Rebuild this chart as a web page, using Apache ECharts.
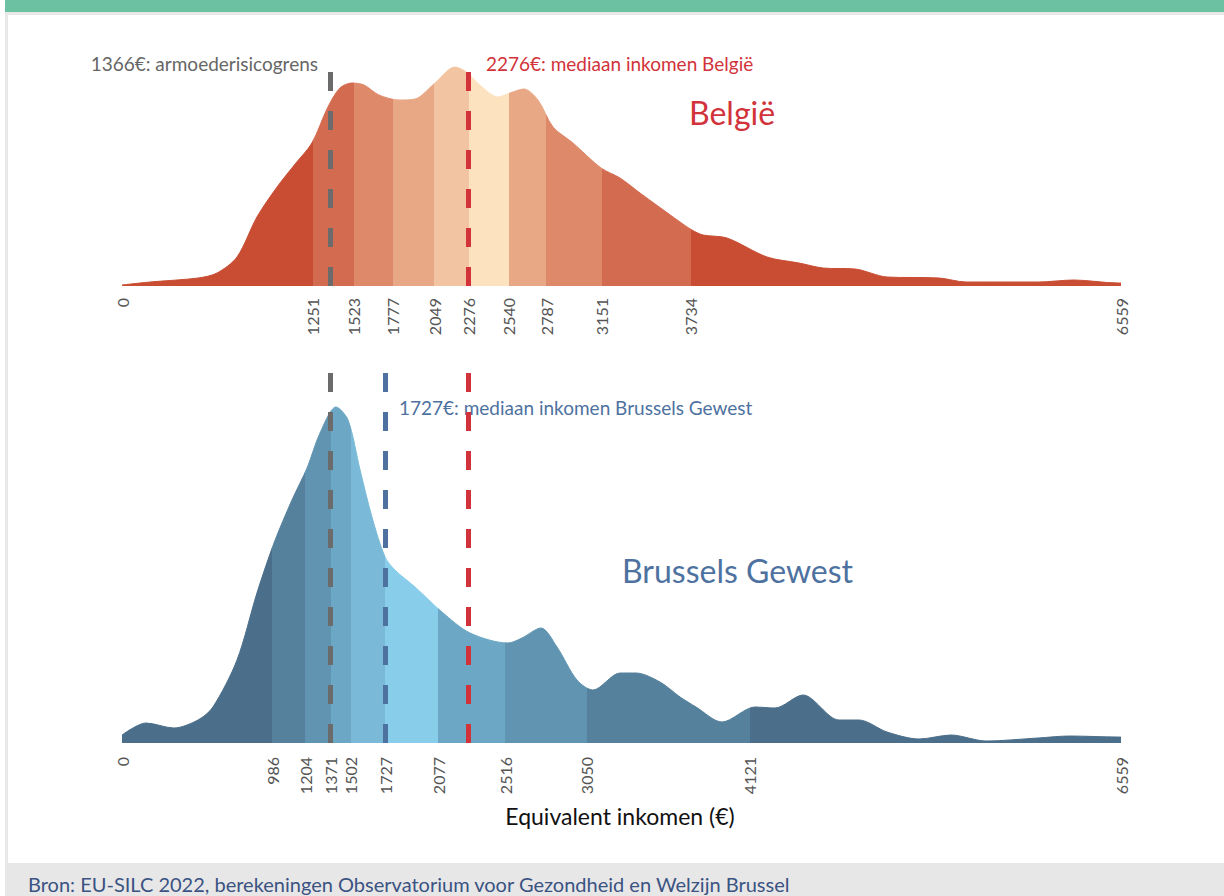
<!DOCTYPE html>
<html>
<head>
<meta charset="utf-8">
<script src="https://cdn.jsdelivr.net/npm/echarts@6/dist/echarts.min.js"></script>
<style>
  html, body { margin: 0; padding: 0; background: #fff; }
  #chart { width: 1224px; height: 896px; }
</style>
</head>
<body>
<div id="chart"></div>
<script>
// inkomensverdeling Belgie (dichtheid, willekeurige eenheid)
const belgiumX = [0, 184, 499, 624, 755, 886, 1018, 1142, 1247, 1352, 1431, 1510, 1589, 1687, 1819, 1924, 2055, 2186, 2259, 2364, 2469, 2547, 2639, 2731, 2830, 2961, 3145, 3270, 3401, 3664, 3742, 3815, 3972, 4235, 4445, 4602, 4813, 5023, 5364, 5541, 6014, 6250, 6540, 6559];
const belgiumY = [1, 4, 8, 13, 29, 69, 99, 123, 143, 179, 198, 203, 201, 191, 186, 187, 203, 219, 214, 199, 189, 193, 197, 186, 159, 143, 118, 108, 93, 64, 56, 51, 48, 29, 23, 18, 17, 9, 8, 4, 4, 6, 3, 3];
// decielgrenzen Belgie
const belgiumTicks = [0, 1251, 1523, 1777, 2049, 2276, 2540, 2787, 3151, 3734, 6559];

// inkomensverdeling Brussels Gewest
const brusselsX = [0, 158, 341, 499, 597, 755, 886, 998, 1116, 1215, 1300, 1405, 1484, 1563, 1641, 1727, 1792, 1924, 2101, 2285, 2534, 2626, 2751, 2856, 2987, 3092, 3270, 3375, 3532, 3664, 3769, 3939, 4156, 4287, 4471, 4708, 4839, 5023, 5233, 5443, 5673, 6014, 6224, 6539, 6559];
const brusselsY = [8, 20, 15, 23, 36, 83, 150, 200, 243, 275, 310, 336, 323, 273, 226, 186, 173, 156, 131, 110, 100, 105, 115, 96, 63, 53, 70, 70, 61, 46, 36, 21, 36, 35, 48, 23, 23, 11, 4, 8, 2, 5, 7, 6, 6];
const brusselsTicks = [0, 986, 1204, 1371, 1502, 1727, 2077, 2516, 3050, 4121, 6559];

// referentielijnen
const povertyLine = 1366;
const medianBelgium = 2276;
const medianBrussels = 1727;

const belgiumColors = ['#c84d33', '#d36b50', '#dd896a', '#e8a886', '#f3c4a2', '#fde2bf', '#e8a886', '#dd896a', '#d36b50', '#c84d33'];
const brusselsColors = ['#4b6e8a', '#55819c', '#6094b1', '#6ca8c5', '#7ab9d7', '#88cdea', '#6ca8c5', '#6094b1', '#55819c', '#4b6e8a'];

const FONT = 'Lato, "Open Sans", sans-serif';

// deciel-stukken voor de visualMap
function makePieces(ticks, colors) {
    let inner = ticks.slice(1, -1);
    let pieces = [];
    pieces.push({ lt: inner[0], color: colors[0] });
    for (let i = 1; i < inner.length; i++) {
        pieces.push({ gte: inner[i - 1], lt: inner[i], color: colors[i] });
    }
    pieces.push({ gte: inner[inner.length - 1], color: colors[inner.length] });
    return pieces;
}

function makeXAxis(idx, ticks, margin) {
    return {
        type: 'value',
        gridIndex: idx,
        min: 0,
        max: 6559,
        axisLine: { show: false },
        axisTick: { show: false },
        splitLine: { show: false },
        axisLabel: {
            customValues: ticks,
            formatter: (v) => String(v),
            rotate: 90,
            margin: margin,
            hideOverlap: false,
            color: '#555',
            fontSize: 16,
            fontFamily: FONT
        }
    };
}

function dashLine(value, color) {
    return { xAxis: value, lineStyle: { color: color, width: 5, type: [19, 20] } };
}

const markBase = {
    silent: true,
    symbol: ['none', 'none'],
    label: { show: false },
    animation: false
};

let chart = echarts.init(document.getElementById('chart'), null, { renderer: 'svg' });

let options = {
    animation: false,
    backgroundColor: '#fff',
    grid: [
        { left: 122, right: 103, top: 71, height: 215 },
        { left: 122, right: 103, top: 372, height: 371 }
    ],
    xAxis: [
        makeXAxis(0, belgiumTicks, 12),
        makeXAxis(1, brusselsTicks, 14)
    ],
    yAxis: [
        { type: 'value', gridIndex: 0, min: 0, max: 215, show: false },
        { type: 'value', gridIndex: 1, min: 0, max: 371, show: false }
    ],
    visualMap: [
        { type: 'piecewise', show: false, dimension: 0, seriesIndex: 0, pieces: makePieces(belgiumTicks, belgiumColors) },
        { type: 'piecewise', show: false, dimension: 0, seriesIndex: 1, pieces: makePieces(brusselsTicks, brusselsColors) }
    ],
    series: [
        {
            name: 'België',
            type: 'line',
            xAxisIndex: 0,
            yAxisIndex: 0,
            smooth: 0.3,
            symbol: 'none',
            clip: false,
            lineStyle: { width: 1 },
            areaStyle: { opacity: 1 },
            data: belgiumX.map((x, i) => [x, belgiumY[i]]),
            markLine: Object.assign({}, markBase, {
                data: [dashLine(povertyLine, '#6b6b6b'), dashLine(medianBelgium, '#d2323a')]
            })
        },
        {
            name: 'Brussels Gewest',
            type: 'line',
            xAxisIndex: 1,
            yAxisIndex: 1,
            smooth: 0.3,
            symbol: 'none',
            clip: false,
            lineStyle: { width: 1 },
            areaStyle: { opacity: 1 },
            data: brusselsX.map((x, i) => [x, brusselsY[i]]),
            markLine: Object.assign({}, markBase, {
                data: [dashLine(povertyLine, '#6b6b6b'), dashLine(medianBrussels, '#4e72a0'), dashLine(medianBelgium, '#d2323a')]
            })
        }
    ],
    graphic: [
        // kader
        { type: 'rect', shape: { x: 5, y: 0, width: 1219, height: 12 }, style: { fill: '#6cc1a3' } },
        { type: 'rect', shape: { x: 5, y: 12, width: 1219, height: 3 }, style: { fill: '#e9e8e9' } },
        { type: 'rect', shape: { x: 5, y: 12, width: 3, height: 852 }, style: { fill: '#e9e8e9' } },
        { type: 'rect', shape: { x: 5, y: 863, width: 1219, height: 33 }, style: { fill: '#e8e7e8' } },
        // teksten
        { type: 'text', x: 318, y: 63, style: { text: '1366€: armoederisicogrens', fill: '#666', font: '19px ' + FONT, textAlign: 'right', textVerticalAlign: 'middle' } },
        { type: 'text', x: 486, y: 63, style: { text: '2276€: mediaan inkomen België', fill: '#d2323a', font: '19px ' + FONT, textAlign: 'left', textVerticalAlign: 'middle' } },
        { type: 'text', x: 689, y: 112, style: { text: 'België', fill: '#d2323a', font: '32px ' + FONT, textAlign: 'left', textVerticalAlign: 'middle' } },
        { type: 'text', x: 399, y: 407, style: { text: '1727€: mediaan inkomen Brussels Gewest', fill: '#4e72a0', font: '19px ' + FONT, textAlign: 'left', textVerticalAlign: 'middle' } },
        { type: 'text', x: 622, y: 570, style: { text: 'Brussels Gewest', fill: '#4e72a0', font: '32px ' + FONT, textAlign: 'left', textVerticalAlign: 'middle' } },
        { type: 'text', x: 620, y: 816, style: { text: 'Equivalent inkomen (€)', fill: '#111', font: '23px ' + FONT, textAlign: 'center', textVerticalAlign: 'middle' } },
        { type: 'text', x: 28, y: 884, style: { text: 'Bron: EU-SILC 2022, berekeningen Observatorium voor Gezondheid en Welzijn Brussel', fill: '#3a5382', font: '20px ' + FONT, textAlign: 'left', textVerticalAlign: 'middle' } }
    ]
};

chart.setOption(options);
</script>
</body>
</html>
